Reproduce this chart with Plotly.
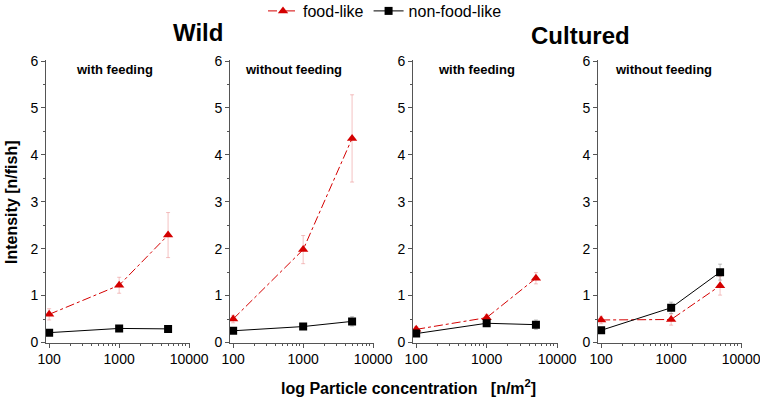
import plotly.graph_objects as go

conc = [100, 1000, 5000]

food_wild_fed = [0.60, 1.22, 2.29]
food_wild_fed_err = [0.12, 0.17, 0.48]
non_wild_fed = [0.21, 0.30, 0.29]
non_wild_fed_err = [0.04, 0.05, 0.04]

food_wild_unfed = [0.50, 1.98, 4.35]
food_wild_unfed_err = [0.08, 0.30, 0.93]
non_wild_unfed = [0.25, 0.34, 0.45]
non_wild_unfed_err = [0.05, 0.06, 0.10]

food_cult_fed = [0.28, 0.53, 1.37]
food_cult_fed_err = [0.06, 0.07, 0.12]
non_cult_fed = [0.19, 0.41, 0.38]
non_cult_fed_err = [0.04, 0.06, 0.10]

food_cult_unfed = [0.48, 0.49, 1.21]
food_cult_unfed_err = [0.08, 0.12, 0.20]
non_cult_unfed = [0.26, 0.74, 1.50]
non_cult_unfed_err = [0.04, 0.12, 0.17]

panels = [
    (food_wild_fed, food_wild_fed_err, non_wild_fed, non_wild_fed_err, "with feeding"),
    (food_wild_unfed, food_wild_unfed_err, non_wild_unfed, non_wild_unfed_err, "without feeding"),
    (food_cult_fed, food_cult_fed_err, non_cult_fed, non_cult_fed_err, "with feeding"),
    (food_cult_unfed, food_cult_unfed_err, non_cult_unfed, non_cult_unfed_err, "without feeding"),
]

x_ticks = [100, 1000, 10000]
x_tick_text = ["100", "1000", "10000"]
y_ticks = [0, 1, 2, 3, 4, 5, 6]

W, H = 760, 398
ML, MR, MT, MB = 40, 10, 50, 40
PW, PH = W - ML - MR, H - MT - MB


def fx(px):
    return (px - ML) / PW


def fy(py):
    return (H - MB - py) / PH


px_domains = [(46, 190), (230, 374), (413, 558), (598, 742)]
title_x_px = [114, 293, 477, 663]
y_dom = [fy(342.5), fy(59.6)]

FONT = "Liberation Sans, Arial, sans-serif"
RED = "#d40000"
AXC = "#555555"

fig = go.Figure()
for i, (fv, fe, nv, ne, sub) in enumerate(panels):
    n = i + 1
    xa = "x" if n == 1 else f"x{n}"
    ya = "y" if n == 1 else f"y{n}"
    fig.add_trace(go.Scatter(
        x=conc, y=fv, xaxis=xa, yaxis=ya, mode="lines+markers",
        name="food-like", legendgroup="food", showlegend=(n == 1),
        line=dict(color=RED, width=1, dash="dashdot"),
        marker=dict(symbol="triangle-up", size=9, color=RED),
        error_y=dict(type="data", array=fe, color="rgba(230,120,120,0.45)", thickness=1, width=2),
    ))
    fig.add_trace(go.Scatter(
        x=conc, y=nv, xaxis=xa, yaxis=ya, mode="lines+markers",
        name="non-food-like", legendgroup="non", showlegend=(n == 1),
        line=dict(color="black", width=1),
        marker=dict(symbol="square", size=8, color="black"),
        error_y=dict(type="data", array=ne, color="rgba(120,120,120,0.45)", thickness=1, width=2),
    ))
    d0, d1 = px_domains[i]
    fig.layout[f"xaxis{'' if n == 1 else n}"] = dict(
        domain=[fx(d0), fx(d1)], anchor=ya, type="log", range=[1.955, 4.012],
        tickvals=x_ticks, ticktext=x_tick_text, ticks="outside", ticklen=4,
        tickcolor=AXC, showline=True, linecolor=AXC, linewidth=1,
        showgrid=False, zeroline=False, automargin=False, ticklabeloverflow="allow",
        minor=dict(ticks="outside", ticklen=2, dtick="D1", tickcolor=AXC, showgrid=False),
        tickfont=dict(family=FONT, size=14, color="black"),
    )
    fig.layout[f"yaxis{'' if n == 1 else n}"] = dict(
        domain=y_dom, anchor=xa, range=[0, 6.03],
        tickvals=y_ticks, ticks="outside", ticklen=4, tickcolor=AXC,
        showline=True, linecolor=AXC, linewidth=1, showgrid=False, zeroline=False,
        automargin=False, ticklabeloverflow="allow",
        minor=dict(ticks="outside", ticklen=2, dtick=0.5, tickcolor=AXC, showgrid=False),
        tickfont=dict(family=FONT, size=14, color="black"),
    )
    fig.add_annotation(text=f"<b>{sub}</b>", xref="paper", yref="paper",
                       x=fx(title_x_px[i]), y=fy(69), xanchor="center", yanchor="middle",
                       showarrow=False, font=dict(family=FONT, size=13, color="black"))

fig.add_annotation(text="<b>Wild</b>", xref="paper", yref="paper", x=fx(198), y=fy(33),
                   xanchor="center", yanchor="middle", showarrow=False,
                   font=dict(family=FONT, size=24, color="black"))
fig.add_annotation(text="<b>Cultured</b>", xref="paper", yref="paper", x=fx(580), y=fy(35),
                   xanchor="center", yanchor="middle", showarrow=False,
                   font=dict(family=FONT, size=24, color="black"))
fig.add_annotation(text="<b>Intensity [n/fish]</b>", xref="paper", yref="paper", x=fx(11), y=fy(202),
                   xanchor="center", yanchor="middle", textangle=-90, showarrow=False,
                   font=dict(family=FONT, size=16, color="black"))
fig.add_annotation(text="<b>log Particle concentration   [n/m<sup>2</sup>]</b>", xref="paper", yref="paper",
                   x=fx(408), y=fy(387), xanchor="center", yanchor="middle", showarrow=False,
                   font=dict(family=FONT, size=16, color="black"))

fig.update_layout(
    width=W, height=H, margin=dict(l=ML, r=MR, t=MT, b=MB, autoexpand=False),
    paper_bgcolor="white", plot_bgcolor="white",
    showlegend=True,
    legend=dict(orientation="h", x=fx(385), xanchor="center", y=fy(-6), yanchor="top",
                font=dict(family=FONT, size=16, color="black"), bgcolor="rgba(0,0,0,0)",
                tracegroupgap=0, itemwidth=30),
)

fig.write_html("out.html", config={"displayModeBar": False},
               post_script="document.body.style.margin='0';document.body.style.overflow='hidden';")
